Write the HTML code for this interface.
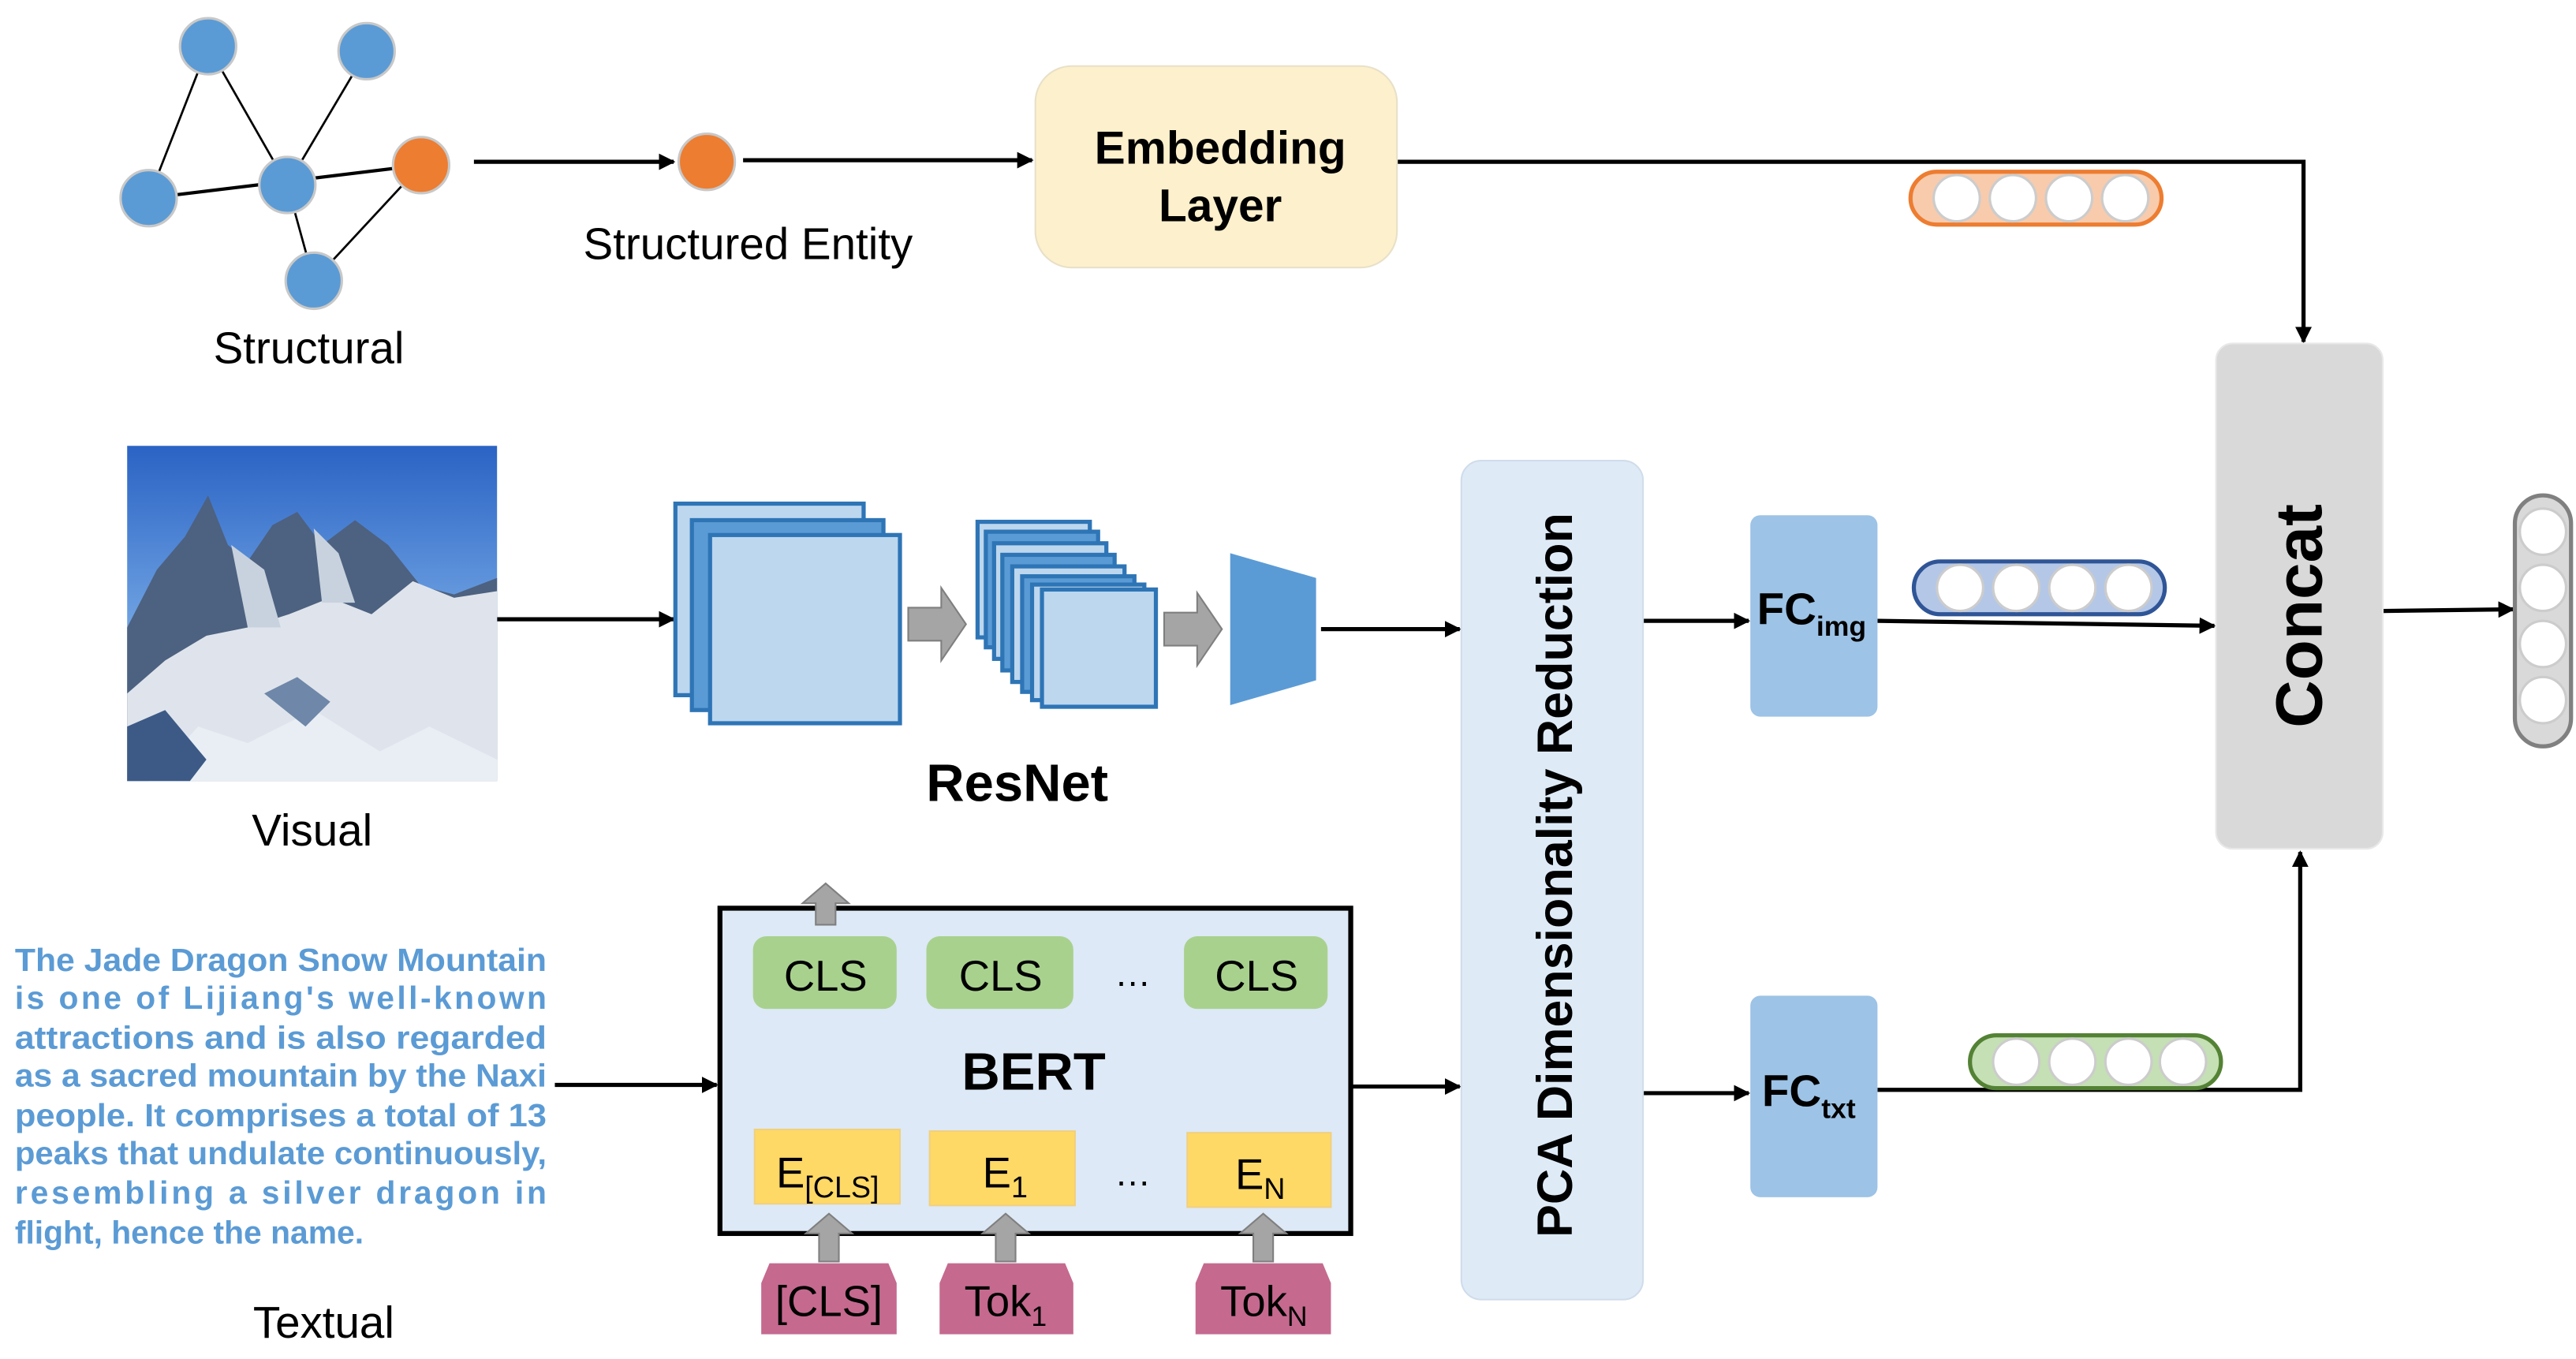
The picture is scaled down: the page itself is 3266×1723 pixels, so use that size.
<!DOCTYPE html>
<html><head><meta charset="utf-8"><style>
html,body{margin:0;padding:0;background:#fff;}
svg{display:block;}
text{font-family:"Liberation Sans",sans-serif;}
</style></head><body>
<svg width="3266" height="1723" viewBox="0 0 1560 823" xmlns="http://www.w3.org/2000/svg">
<defs>
<marker id="ah" markerWidth="10" markerHeight="10" refX="9" refY="5" orient="auto" markerUnits="userSpaceOnUse"><path d="M0,0 L10,5 L0,10 z" fill="#000"/></marker>
<linearGradient id="sky" x1="0" y1="0" x2="0" y2="1"><stop offset="0" stop-color="#2a63c4"/><stop offset="0.5" stop-color="#6a9ee0"/><stop offset="1" stop-color="#b8d0ee"/></linearGradient>
</defs>
<g stroke="#000" fill="none">
<line x1="126" y1="28" x2="90" y2="120" stroke-width="1.3"/>
<line x1="126" y1="28" x2="174" y2="112" stroke-width="1.3"/>
<line x1="222" y1="31" x2="174" y2="112" stroke-width="1.3"/>
<line x1="90" y1="120" x2="255" y2="100" stroke-width="2"/>
<line x1="174" y1="112" x2="190" y2="170" stroke-width="1.3"/>
<line x1="190" y1="170" x2="255" y2="100" stroke-width="1.3"/>
</g>
<g stroke="#c8c8c8" stroke-width="1.5">
<circle cx="126" cy="28" r="17" fill="#5b9bd5"/>
<circle cx="222" cy="31" r="17" fill="#5b9bd5"/>
<circle cx="90" cy="120" r="17" fill="#5b9bd5"/>
<circle cx="174" cy="112" r="17" fill="#5b9bd5"/>
<circle cx="190" cy="170" r="17" fill="#5b9bd5"/>
<circle cx="255" cy="100" r="17" fill="#ed7d31"/>
<circle cx="428" cy="98" r="17" fill="#ed7d31"/>
</g>
<text x="187" y="220" font-size="27" text-anchor="middle">Structural</text>
<text x="453" y="157" font-size="27" text-anchor="middle">Structured Entity</text>
<g stroke="#000" stroke-width="2.5" fill="none" marker-end="url(#ah)">
<line x1="287" y1="98" x2="408" y2="98"/>
<line x1="450" y1="97" x2="625" y2="97"/>
<polyline points="846,98 1395,98 1395,207"/>
<line x1="301" y1="375" x2="408" y2="375"/>
<line x1="800" y1="381" x2="884" y2="381"/>
<line x1="995" y1="376" x2="1059" y2="376"/>
<line x1="995" y1="662" x2="1059" y2="662"/>
<line x1="1137" y1="376" x2="1341" y2="379"/>
<polyline points="1137,660 1393,660 1393,516"/>
<line x1="1443" y1="370" x2="1522" y2="369"/>
<line x1="336" y1="657" x2="434" y2="657"/>
<line x1="818" y1="658" x2="884" y2="658"/>
</g>
<rect x="627" y="40" width="219" height="122" rx="22" fill="#fdf0cc" stroke="#e8e0c8"/>
<text x="739" y="99" font-size="28" font-weight="bold" text-anchor="middle">Embedding</text>
<text x="739" y="134" font-size="28" font-weight="bold" text-anchor="middle">Layer</text>
<rect x="1157" y="104" width="152" height="32" rx="16" fill="#f8cbad" stroke="#ed7d31" stroke-width="2.5"/>
<g fill="#fff" stroke="#ccc" stroke-width="1.5"><circle cx="1185" cy="120" r="14"/><circle cx="1219" cy="120" r="14"/><circle cx="1253" cy="120" r="14"/><circle cx="1287" cy="120" r="14"/></g>
<rect x="1159" y="340" width="152" height="32" rx="16" fill="#b4c7e7" stroke="#2f5597" stroke-width="2.5"/>
<g fill="#fff" stroke="#ccc" stroke-width="1.5"><circle cx="1187" cy="356" r="14"/><circle cx="1221" cy="356" r="14"/><circle cx="1255" cy="356" r="14"/><circle cx="1289" cy="356" r="14"/></g>
<rect x="1193" y="627" width="152" height="32" rx="16" fill="#c5e0b4" stroke="#548235" stroke-width="2.5"/>
<g fill="#fff" stroke="#ccc" stroke-width="1.5"><circle cx="1221" cy="643" r="14"/><circle cx="1255" cy="643" r="14"/><circle cx="1289" cy="643" r="14"/><circle cx="1322" cy="643" r="14"/></g>
<rect x="1523" y="300" width="34" height="152" rx="17" fill="#d9d9d9" stroke="#808080" stroke-width="2.5"/>
<g fill="#fff" stroke="#ccc" stroke-width="1.5"><circle cx="1540" cy="322" r="14"/><circle cx="1540" cy="356" r="14"/><circle cx="1540" cy="390" r="14"/><circle cx="1540" cy="424" r="14"/></g>
<rect x="1342" y="208" width="101" height="306" rx="10" fill="#d9d9d9" stroke="#e8e8e8"/>
<text transform="translate(1406,373) rotate(-90)" font-size="40" font-weight="bold" text-anchor="middle">Concat</text>
<rect x="885" y="279" width="110" height="508" rx="12" fill="#deebf7" stroke="#d0dcea"/>
<text transform="translate(952,530) rotate(-90)" font-size="30" font-weight="bold" text-anchor="middle">PCA Dimensionality Reduction</text>
<rect x="1060" y="312" width="77" height="122" rx="6" fill="#9dc3e6"/>
<text x="1064" y="378" font-size="27" font-weight="bold">FC<tspan font-size="17" dy="7">img</tspan></text>
<rect x="1060" y="603" width="77" height="122" rx="6" fill="#9dc3e6"/>
<text x="1067" y="670" font-size="27" font-weight="bold">FC<tspan font-size="17" dy="7">txt</tspan></text>
<rect x="77" y="270" width="224" height="203" fill="url(#sky)"/>
<polygon points="77,380 95,345 112,325 126,300 138,330 150,340 165,318 180,310 195,330 215,315 235,330 255,355 275,360 301,350 301,473 77,473" fill="#4d6180"/>
<polygon points="77,420 100,400 125,385 150,380 175,372 200,362 225,372 250,352 275,362 301,358 301,473 77,473" fill="#dfe4ec"/>
<polygon points="140,330 160,345 170,380 150,380" fill="#c8d2de"/>
<polygon points="190,320 205,335 215,365 195,365" fill="#c8d2de"/>
<polygon points="90,473 120,440 150,450 190,430 230,455 260,440 301,460 301,473" fill="#e9eef5"/>
<polygon points="77,440 100,430 125,460 115,473 77,473" fill="#3d5a86"/>
<polygon points="160,420 180,410 200,425 185,440" fill="#6f87a8"/>
<text x="189" y="512" font-size="27" text-anchor="middle">Visual</text>
<g stroke="#2e75b6" stroke-width="2.5">
<rect x="409" y="305" width="114" height="116" fill="#bdd7ee"/>
<rect x="419" y="315" width="116" height="115" fill="#5b9bd5"/>
<rect x="430" y="324" width="115" height="114" fill="#bdd7ee"/>
<rect x="592" y="316" width="68" height="70" fill="#bdd7ee"/>
<rect x="597" y="322" width="68" height="70" fill="#5b9bd5"/>
<rect x="602" y="329" width="68" height="70" fill="#bdd7ee"/>
<rect x="607" y="336" width="68" height="70" fill="#5b9bd5"/>
<rect x="613" y="343" width="68" height="70" fill="#bdd7ee"/>
<rect x="619" y="349" width="68" height="70" fill="#5b9bd5"/>
<rect x="625" y="354" width="68" height="70" fill="#bdd7ee"/>
<rect x="631" y="357" width="69" height="71" fill="#bdd7ee"/>
</g>
<g fill="#a5a5a5" stroke="#7f7f7f">
<polygon points="550,368 570,368 570,356 585,378 570,400 570,388 550,388"/>
<polygon points="705,371 725,371 725,359 740,381 725,403 725,391 705,391"/>
</g>
<polygon points="745,335 797,350 797,412 745,427" fill="#5b9bd5"/>
<text x="616" y="485" font-size="32" font-weight="bold" text-anchor="middle">ResNet</text>
<g fill="#5b9bd5" font-size="19.5" font-weight="bold">
<text x="9" y="588" textLength="322" lengthAdjust="spacingAndGlyphs">The Jade Dragon Snow Mountain</text>
<text x="9" y="611" textLength="322" lengthAdjust="spacing">is one of Lijiang's well-known</text>
<text x="9" y="635" textLength="322" lengthAdjust="spacingAndGlyphs">attractions and is also regarded</text>
<text x="9" y="658" textLength="322" lengthAdjust="spacingAndGlyphs">as a sacred mountain by the Naxi</text>
<text x="9" y="682" textLength="322" lengthAdjust="spacingAndGlyphs">people. It comprises a total of 13</text>
<text x="9" y="705" textLength="322" lengthAdjust="spacingAndGlyphs">peaks that undulate continuously,</text>
<text x="9" y="729" textLength="322" lengthAdjust="spacing">resembling a silver dragon in</text>
<text x="9" y="753">flight, hence the name.</text>
</g>
<text x="196" y="810" font-size="27" text-anchor="middle">Textual</text>
<rect x="436" y="550" width="382" height="197" fill="#dde9f6" stroke="#000" stroke-width="3"/>
<g fill="#a5a5a5" stroke="#7f7f7f">
<polygon points="494,560 494,547 486,547 500,535 514,547 506,547 506,560"/>
<polygon points="496,764 496,747 488,747 502,735 516,747 508,747 508,764"/>
<polygon points="603,764 603,747 595,747 609,735 623,747 615,747 615,764"/>
<polygon points="759,764 759,747 751,747 765,735 779,747 771,747 771,764"/>
</g>
<g fill="#a9d18e"><rect x="456" y="567" width="87" height="44" rx="8"/><rect x="561" y="567" width="89" height="44" rx="8"/><rect x="717" y="567" width="87" height="44" rx="8"/></g>
<g font-size="26" text-anchor="middle"><text x="500" y="600">CLS</text><text x="606" y="600">CLS</text><text x="761" y="600">CLS</text></g>
<text x="686" y="597" font-size="22" text-anchor="middle">…</text>
<text x="626" y="660" font-size="32" font-weight="bold" text-anchor="middle">BERT</text>
<g fill="#ffd966" stroke="#f0d080"><rect x="457" y="684" width="88" height="45"/><rect x="563" y="685" width="88" height="45"/><rect x="719" y="686" width="87" height="45"/></g>
<text x="470" y="719" font-size="26">E<tspan font-size="18" dy="6">[CLS]</tspan></text>
<text x="595" y="719" font-size="26">E<tspan font-size="18" dy="6">1</tspan></text>
<text x="748" y="720" font-size="26">E<tspan font-size="18" dy="6">N</tspan></text>
<text x="686" y="718" font-size="22" text-anchor="middle">…</text>
<g fill="#c5698f">
<polygon points="466,765 538,765 543,777 543,808 461,808 461,777"/>
<polygon points="574,765 645,765 650,777 650,808 569,808 569,777"/>
<polygon points="729,765 801,765 806,777 806,808 724,808 724,777"/>
</g>
<g font-size="26"><text x="502" y="797" text-anchor="middle">[CLS]</text>
<text x="584" y="797">Tok<tspan font-size="17" dy="6">1</tspan></text>
<text x="739" y="797">Tok<tspan font-size="17" dy="6">N</tspan></text></g>
</svg>
</body></html>
